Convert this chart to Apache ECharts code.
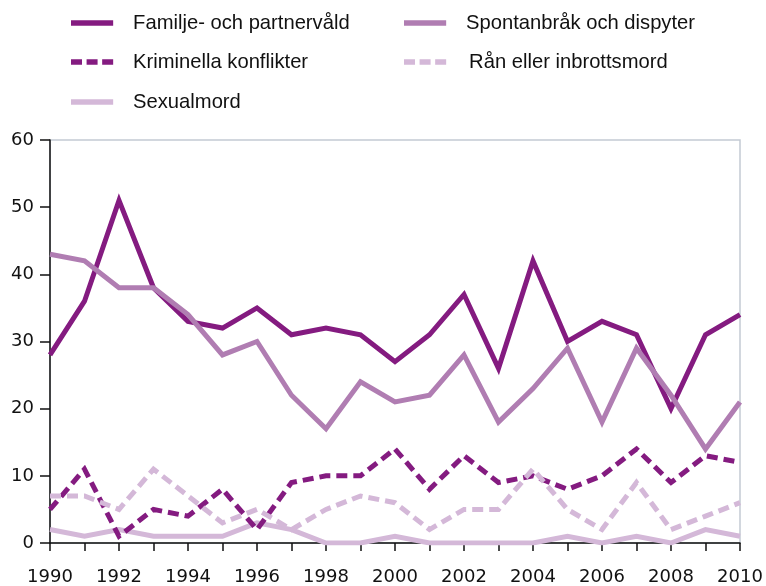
<!DOCTYPE html>
<html>
<head>
<meta charset="utf-8">
<script src="https://cdn.jsdelivr.net/npm/echarts@6/dist/echarts.min.js"></script>
<style>
  html, body { margin: 0; padding: 0; background: #fff; }
  #chart { width: 766px; height: 586px; }
</style>
</head>
<body>
<div id="chart"></div>
<script>
const years = ['1990', '1991', '1992', '1993', '1994', '1995', '1996', '1997', '1998', '1999', '2000',
    '2001', '2002', '2003', '2004', '2005', '2006', '2007', '2008', '2009', '2010'];

const familj = [28, 36, 51, 38, 33, 32, 35, 31, 32, 31, 27, 31, 37, 26, 42, 30, 33, 31, 20, 31, 34];
const spontan = [43, 42, 38, 38, 34, 28, 30, 22, 17, 24, 21, 22, 28, 18, 23, 29, 18, 29, 22, 14, 21];
const kriminella = [5, 11, 1, 5, 4, 8, 2, 9, 10, 10, 14, 8, 13, 9, 10, 8, 10, 14, 9, 13, 12];
const ran = [7, 7, 5, 11, 7, 3, 5, 2, 5, 7, 6, 2, 5, 5, 11, 5, 2, 9, 2, 4, 6];
const sexual = [2, 1, 2, 1, 1, 1, 3, 2, 0, 0, 1, 0, 0, 0, 0, 1, 0, 1, 0, 2, 1];

const names = ['Familje- och partnervåld', 'Spontanbråk och dispyter', 'Kriminella konflikter',
    'Rån eller inbrottsmord', 'Sexualmord'];

const dark = '#841b80';
const mid = '#b07db2';
const light = '#d4b8d8';

// legend keys: a plain bar, or three short bars for the dashed series
const solidIcon = 'path://M0,0h46v6h-46z';
const dashIcon = 'path://M0,0h12v6h-12z M17,0h12v6h-12z M34,0h12v6h-12z';

const chart = echarts.init(document.getElementById('chart'));

function legendAt(name, left, top, icon, shift) {
    return {
        data: [name],
        left: left,
        top: top,
        icon: icon,
        itemWidth: 46,
        itemHeight: 5.5,
        itemGap: 0,
        padding: 0,
        textStyle: {
            fontFamily: 'Liberation Sans', fontSize: 20.2, color: '#111',
            padding: [0, 0, 0, 13 + (shift || 0)]
        },
        selectedMode: false
    };
}

function line(name, data, color, dashed) {
    return {
        name: name,
        type: 'line',
        data: data,
        symbol: 'none',
        lineStyle: { color: color, width: 5, type: dashed ? [11, 6] : 'solid', join: 'miter' },
        itemStyle: { color: color },
        z: dashed ? 3 : 2
    };
}

chart.setOption({
    animation: false,
    legend: [
        legendAt(names[0], 71, 13, solidIcon),
        legendAt(names[1], 404, 13, solidIcon),
        legendAt(names[2], 71, 52, dashIcon),
        legendAt(names[3], 404, 52, dashIcon, 3),
        legendAt(names[4], 71, 92, solidIcon)
    ],
    grid: {
        left: 50, right: 26, top: 140, bottom: 42,
        show: true, borderColor: '#c3cad3', borderWidth: 1.5
    },
    xAxis: {
        type: 'category',
        data: years,
        boundaryGap: false,
        axisLine: { lineStyle: { color: '#111', width: 1.5 } },
        axisTick: { interval: 0, length: 8, lineStyle: { color: '#111', width: 1.5 } },
        axisLabel: { interval: 1, margin: 25, fontFamily: 'DejaVu Sans', fontSize: 18, color: '#111' },
        splitLine: { show: false }
    },
    yAxis: {
        type: 'value',
        min: 0, max: 60, interval: 10,
        axisLine: { show: true, lineStyle: { color: '#111', width: 1.5 } },
        axisTick: { show: true, length: 10, lineStyle: { color: '#111', width: 1.5 } },
        axisLabel: { margin: 16, fontFamily: 'DejaVu Sans', fontSize: 18, color: '#111' },
        splitLine: { show: false }
    },
    series: [
        line(names[0], familj, dark, false),
        line(names[1], spontan, mid, false),
        line(names[2], kriminella, dark, true),
        line(names[3], ran, light, true),
        line(names[4], sexual, light, false)
    ]
});

window.addEventListener('resize', () => chart.resize());
</script>
</body>
</html>
